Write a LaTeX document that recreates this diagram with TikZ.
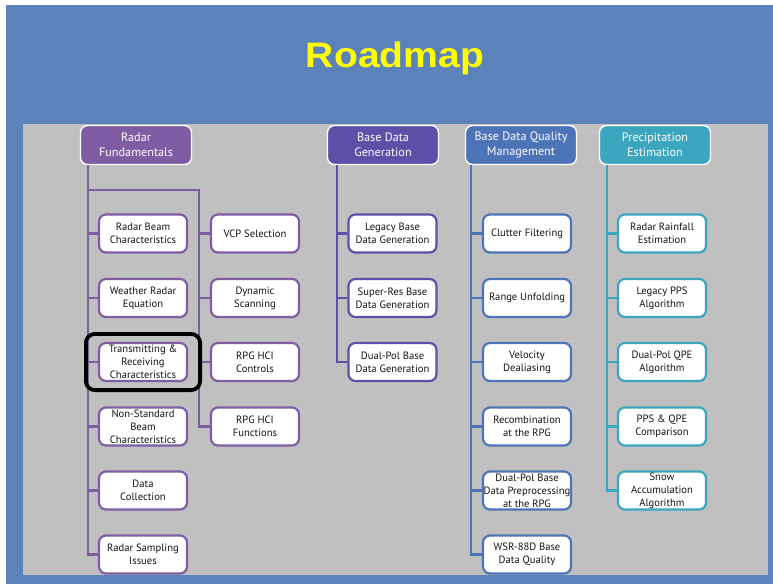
\documentclass[tikz,border=0pt]{standalone}
\usepackage{fontspec}
\setmainfont{PT Sans}
\newfontfamily\titlefont{Liberation Sans}
\usetikzlibrary{fit}
\definecolor{bgblue}{RGB}{91,130,187}
\definecolor{panelgray}{RGB}{192,192,192}
\definecolor{titleyellow}{RGB}{255,255,0}
\definecolor{cA}{RGB}{128,92,164}
\definecolor{cAl}{RGB}{122,94,158}
\definecolor{cB}{RGB}{94,80,168}
\definecolor{cC}{RGB}{78,116,184}
\definecolor{cD}{RGB}{60,166,190}
\definecolor{txt}{RGB}{20,20,20}
\tikzset{
  hdr/.style={rounded corners=7pt, draw=white, line width=1.4pt, text=white,
    minimum width=111pt, minimum height=39pt, align=center, inner sep=0pt,
    font=\fontsize{12.2}{15}\selectfont},
  box/.style={rounded corners=7pt, fill=white, line width=2.2pt,
    minimum width=88pt, minimum height=38pt, align=center, inner sep=0pt,
    text=txt, font=\fontsize{10.6}{12.9}\selectfont},
  lnk/.style={line width=2.8pt},
  hl/.style={draw=black, line width=3.8pt, rounded corners=9pt}
}
\begin{document}
\begin{tikzpicture}[x=1pt,y=-1pt]
\useasboundingbox (0,0) rectangle (773,584);
\fill[white] (0,0) rectangle (773,584);
\fill[bgblue] (6,5) rectangle (773,584);
\fill[panelgray] (23,124) rectangle (768,575);
\node[text=titleyellow, font=\titlefont\bfseries\fontsize{34}{36}\selectfont, xscale=1.15, yscale=1.04, inner sep=0pt] (title) at (395,58) {Roadmap};

% headers
\node[hdr, fill=cA] (h1) at (136,145) {Radar\\Fundamentals};
\node[hdr, fill=cB] (h2) at (383,145) {Base Data\\Generation};
\node[hdr, fill=cC] (h3) at (521,145) {Base Data Quality\\Management};
\node[hdr, fill=cD] (h4) at (655,145) {Precipitation\\Estimation};

% column 1
\node[box, draw=cA] (a1) at (143,233.5) {Radar Beam\\Characteristics};
\node[box, draw=cA] (a2) at (143,298) {Weather Radar\\Equation};
\node[box, draw=cA] (a3) at (143,362) {Transmitting \&\\Receiving\\Characteristics};
\node[box, draw=cA] (a4) at (143,426.5) {Non-Standard\\Beam\\Characteristics};
\node[box, draw=cA] (a5) at (143,490.5) {Data\\Collection};
\node[box, draw=cA] (a6) at (143,554.5) {Radar Sampling\\Issues};
\node[box, draw=cA] (f1) at (255,233.5) {VCP Selection};
\node[box, draw=cA] (f2) at (255,298) {Dynamic\\Scanning};
\node[box, draw=cA] (f3) at (255,362) {RPG HCI\\Controls};
\node[box, draw=cA] (f4) at (255,426.5) {RPG HCI\\Functions};

% column 2
\node[box, draw=cB] (b1) at (392.5,233.5) {Legacy Base\\Data Generation};
\node[box, draw=cB] (b2) at (392.5,298) {Super-Res Base\\Data Generation};
\node[box, draw=cB] (b3) at (392.5,362) {Dual-Pol Base\\Data Generation};

% column 3
\node[box, draw=cC] (c1) at (527,233.5) {Clutter Filtering};
\node[box, draw=cC] (c2) at (527,298) {Range Unfolding};
\node[box, draw=cC] (c3) at (527,362) {Velocity\\Dealiasing};
\node[box, draw=cC] (c4) at (527,426.5) {Recombination\\at the RPG};
\node[box, draw=cC] (c5) at (527,490.5) {Dual-Pol Base\\Data Preprocessing\\at the RPG};
\node[box, draw=cC] (c6) at (527,554.5) {WSR-88D Base\\Data Quality};

% column 4
\node[box, draw=cD] (d1) at (662,233.5) {Radar Rainfall\\Estimation};
\node[box, draw=cD] (d2) at (662,298) {Legacy PPS\\Algorithm};
\node[box, draw=cD] (d3) at (662,362) {Dual-Pol QPE\\Algorithm};
\node[box, draw=cD] (d4) at (662,426.5) {PPS \& QPE\\Comparison};
\node[box, draw=cD] (d5) at (662,490.5) {Snow\\Accumulation\\Algorithm};

% trunks
\coordinate (t1) at (88,0);
\coordinate (t1b) at (199,0);
\coordinate (t2) at (337,0);
\coordinate (t3) at (471,0);
\coordinate (t4) at (607,0);
\coordinate (j1) at (88,190);
\coordinate (j2) at (199,190);

\draw[lnk, cAl] (t1 |- h1.south) -- (t1 |- a6.west) -- (a6.west);
\foreach \n in {a1,a2,a3,a4,a5} \draw[lnk, cAl] (t1 |- \n.west) -- (\n.west);
\draw[lnk, cAl] (j1) -- (j2) -- (j2 |- f4.west) -- (f4.west);
\foreach \n in {f1,f2,f3} \draw[lnk, cAl] (t1b |- \n.west) -- (\n.west);

\draw[lnk, cB] (t2 |- h2.south) -- (t2 |- b3.west) -- (b3.west);
\foreach \n in {b1,b2} \draw[lnk, cB] (t2 |- \n.west) -- (\n.west);

\draw[lnk, cC] (t3 |- h3.south) -- (t3 |- c6.west) -- (c6.west);
\foreach \n in {c1,c2,c3,c4,c5} \draw[lnk, cC] (t3 |- \n.west) -- (\n.west);

\draw[lnk, cD] (t4 |- h4.south) -- (t4 |- d5.west) -- (d5.west);
\foreach \n in {d1,d2,d3,d4} \draw[lnk, cD] (t4 |- \n.west) -- (\n.west);

% highlight
\node[hl, fit=(a3), inner xsep=12pt, inner ysep=8pt] (hl) {};
\end{tikzpicture}
\end{document}
